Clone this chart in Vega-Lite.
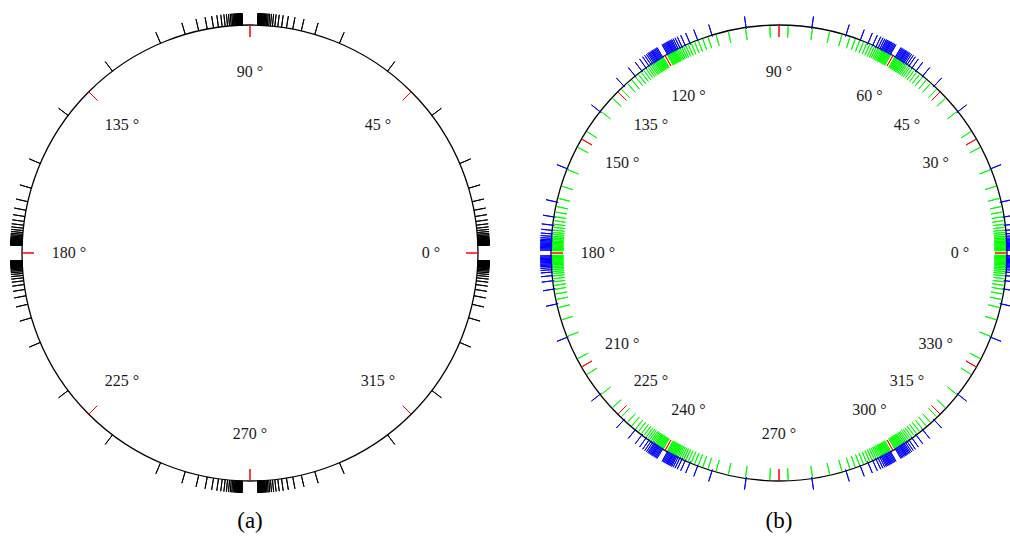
{
"$schema": "https://vega.github.io/schema/vega-lite/v6.json",
"background": "white",
"padding": 5,
"spacing": 39,
"config": {"view": {"stroke": null}},
"datasets": {
"circle": [{"start": 0, "end": 360}],
"aLabels": [{"angle":0,"label":"0 °"},{"angle":45,"label":"45 °"},{"angle":90,"label":"90 °"},{"angle":135,"label":"135 °"},{"angle":180,"label":"180 °"},{"angle":225,"label":"225 °"},{"angle":270,"label":"270 °"},{"angle":315,"label":"315 °"}],
"bLabels": [{"angle":0,"label":"0 °"},{"angle":30,"label":"30 °"},{"angle":45,"label":"45 °"},{"angle":60,"label":"60 °"},{"angle":90,"label":"90 °"},{"angle":120,"label":"120 °"},{"angle":135,"label":"135 °"},{"angle":150,"label":"150 °"},{"angle":180,"label":"180 °"},{"angle":210,"label":"210 °"},{"angle":225,"label":"225 °"},{"angle":240,"label":"240 °"},{"angle":270,"label":"270 °"},{"angle":300,"label":"300 °"},{"angle":315,"label":"315 °"},{"angle":330,"label":"330 °"}],
"aOuter": [
{"angle":1.9},{"angle":1.96},{"angle":2.03},{"angle":2.1},{"angle":2.18},{"angle":2.27},{"angle":2.36},{"angle":2.46},{"angle":2.57},{"angle":2.7},{"angle":2.83},{"angle":2.98},{"angle":3.15},{"angle":3.33},{"angle":3.54},{"angle":3.78},{"angle":4.05},{"angle":4.36},{"angle":4.72},{"angle":5.15},{"angle":5.65},{"angle":6.25},{"angle":7},{"angle":7.95},{"angle":9.2},{"angle":10.8},{"angle":13},{"angle":16.5},{"angle":23.1},{"angle":37.1},
{"angle":88.1},{"angle":88.04},{"angle":87.97},{"angle":87.9},{"angle":87.82},{"angle":87.73},{"angle":87.64},{"angle":87.54},{"angle":87.43},{"angle":87.3},{"angle":87.17},{"angle":87.02},{"angle":86.85},{"angle":86.67},{"angle":86.46},{"angle":86.22},{"angle":85.95},{"angle":85.64},{"angle":85.28},{"angle":84.85},{"angle":84.35},{"angle":83.75},{"angle":83},{"angle":82.05},{"angle":80.8},{"angle":79.2},{"angle":77},{"angle":73.5},{"angle":66.9},{"angle":52.9},
{"angle":91.9},{"angle":91.96},{"angle":92.03},{"angle":92.1},{"angle":92.18},{"angle":92.27},{"angle":92.36},{"angle":92.46},{"angle":92.57},{"angle":92.7},{"angle":92.83},{"angle":92.98},{"angle":93.15},{"angle":93.33},{"angle":93.54},{"angle":93.78},{"angle":94.05},{"angle":94.36},{"angle":94.72},{"angle":95.15},{"angle":95.65},{"angle":96.25},{"angle":97},{"angle":97.95},{"angle":99.2},{"angle":100.8},{"angle":103},{"angle":106.5},{"angle":113.1},{"angle":127.1},
{"angle":178.1},{"angle":178.04},{"angle":177.97},{"angle":177.9},{"angle":177.82},{"angle":177.73},{"angle":177.64},{"angle":177.54},{"angle":177.43},{"angle":177.3},{"angle":177.17},{"angle":177.02},{"angle":176.85},{"angle":176.67},{"angle":176.46},{"angle":176.22},{"angle":175.95},{"angle":175.64},{"angle":175.28},{"angle":174.85},{"angle":174.35},{"angle":173.75},{"angle":173},{"angle":172.05},{"angle":170.8},{"angle":169.2},{"angle":167},{"angle":163.5},{"angle":156.9},{"angle":142.9},
{"angle":181.9},{"angle":181.96},{"angle":182.03},{"angle":182.1},{"angle":182.18},{"angle":182.27},{"angle":182.36},{"angle":182.46},{"angle":182.57},{"angle":182.7},{"angle":182.83},{"angle":182.98},{"angle":183.15},{"angle":183.33},{"angle":183.54},{"angle":183.78},{"angle":184.05},{"angle":184.36},{"angle":184.72},{"angle":185.15},{"angle":185.65},{"angle":186.25},{"angle":187},{"angle":187.95},{"angle":189.2},{"angle":190.8},{"angle":193},{"angle":196.5},{"angle":203.1},{"angle":217.1},
{"angle":268.1},{"angle":268.04},{"angle":267.97},{"angle":267.9},{"angle":267.82},{"angle":267.73},{"angle":267.64},{"angle":267.54},{"angle":267.43},{"angle":267.3},{"angle":267.17},{"angle":267.02},{"angle":266.85},{"angle":266.67},{"angle":266.46},{"angle":266.22},{"angle":265.95},{"angle":265.64},{"angle":265.28},{"angle":264.85},{"angle":264.35},{"angle":263.75},{"angle":263},{"angle":262.05},{"angle":260.8},{"angle":259.2},{"angle":257},{"angle":253.5},{"angle":246.9},{"angle":232.9},
{"angle":271.9},{"angle":271.96},{"angle":272.03},{"angle":272.1},{"angle":272.18},{"angle":272.27},{"angle":272.36},{"angle":272.46},{"angle":272.57},{"angle":272.7},{"angle":272.83},{"angle":272.98},{"angle":273.15},{"angle":273.33},{"angle":273.54},{"angle":273.78},{"angle":274.05},{"angle":274.36},{"angle":274.72},{"angle":275.15},{"angle":275.65},{"angle":276.25},{"angle":277},{"angle":277.95},{"angle":279.2},{"angle":280.8},{"angle":283},{"angle":286.5},{"angle":293.1},{"angle":307.1},
{"angle":358.1},{"angle":358.04},{"angle":357.97},{"angle":357.9},{"angle":357.82},{"angle":357.73},{"angle":357.64},{"angle":357.54},{"angle":357.43},{"angle":357.3},{"angle":357.17},{"angle":357.02},{"angle":356.85},{"angle":356.67},{"angle":356.46},{"angle":356.22},{"angle":355.95},{"angle":355.64},{"angle":355.28},{"angle":354.85},{"angle":354.35},{"angle":353.75},{"angle":353},{"angle":352.05},{"angle":350.8},{"angle":349.2},{"angle":347},{"angle":343.5},{"angle":336.9},{"angle":322.9}
],
"bBlue": [
{"angle":0.7},{"angle":1},{"angle":1.3},{"angle":1.6},{"angle":1.9},{"angle":2.15},{"angle":2.4},{"angle":2.7},{"angle":3},{"angle":3.3},{"angle":3.7},{"angle":4.2},{"angle":4.8},{"angle":5.7},{"angle":7},{"angle":9.1},{"angle":12.9},{"angle":21.7},
{"angle":359.3},{"angle":359},{"angle":358.7},{"angle":358.4},{"angle":358.1},{"angle":357.85},{"angle":357.6},{"angle":357.3},{"angle":357},{"angle":356.7},{"angle":356.3},{"angle":355.8},{"angle":355.2},{"angle":354.3},{"angle":353},{"angle":350.9},{"angle":347.1},{"angle":338.3},
{"angle":59.3},{"angle":59},{"angle":58.7},{"angle":58.4},{"angle":58.1},{"angle":57.85},{"angle":57.6},{"angle":57.3},{"angle":57},{"angle":56.7},{"angle":56.3},{"angle":55.8},{"angle":55.2},{"angle":54.3},{"angle":53},{"angle":50.9},{"angle":47.1},{"angle":38.3},
{"angle":60.7},{"angle":61},{"angle":61.3},{"angle":61.6},{"angle":61.9},{"angle":62.15},{"angle":62.4},{"angle":62.7},{"angle":63},{"angle":63.3},{"angle":63.7},{"angle":64.2},{"angle":64.8},{"angle":65.7},{"angle":67},{"angle":69.1},{"angle":72.9},{"angle":81.7},
{"angle":119.3},{"angle":119},{"angle":118.7},{"angle":118.4},{"angle":118.1},{"angle":117.85},{"angle":117.6},{"angle":117.3},{"angle":117},{"angle":116.7},{"angle":116.3},{"angle":115.8},{"angle":115.2},{"angle":114.3},{"angle":113},{"angle":110.9},{"angle":107.1},{"angle":98.3},
{"angle":120.7},{"angle":121},{"angle":121.3},{"angle":121.6},{"angle":121.9},{"angle":122.15},{"angle":122.4},{"angle":122.7},{"angle":123},{"angle":123.3},{"angle":123.7},{"angle":124.2},{"angle":124.8},{"angle":125.7},{"angle":127},{"angle":129.1},{"angle":132.9},{"angle":141.7},
{"angle":179.3},{"angle":179},{"angle":178.7},{"angle":178.4},{"angle":178.1},{"angle":177.85},{"angle":177.6},{"angle":177.3},{"angle":177},{"angle":176.7},{"angle":176.3},{"angle":175.8},{"angle":175.2},{"angle":174.3},{"angle":173},{"angle":170.9},{"angle":167.1},{"angle":158.3},
{"angle":180.7},{"angle":181},{"angle":181.3},{"angle":181.6},{"angle":181.9},{"angle":182.15},{"angle":182.4},{"angle":182.7},{"angle":183},{"angle":183.3},{"angle":183.7},{"angle":184.2},{"angle":184.8},{"angle":185.7},{"angle":187},{"angle":189.1},{"angle":192.9},{"angle":201.7},
{"angle":239.3},{"angle":239},{"angle":238.7},{"angle":238.4},{"angle":238.1},{"angle":237.85},{"angle":237.6},{"angle":237.3},{"angle":237},{"angle":236.7},{"angle":236.3},{"angle":235.8},{"angle":235.2},{"angle":234.3},{"angle":233},{"angle":230.9},{"angle":227.1},{"angle":218.3},
{"angle":240.7},{"angle":241},{"angle":241.3},{"angle":241.6},{"angle":241.9},{"angle":242.15},{"angle":242.4},{"angle":242.7},{"angle":243},{"angle":243.3},{"angle":243.7},{"angle":244.2},{"angle":244.8},{"angle":245.7},{"angle":247},{"angle":249.1},{"angle":252.9},{"angle":261.7},
{"angle":299.3},{"angle":299},{"angle":298.7},{"angle":298.4},{"angle":298.1},{"angle":297.85},{"angle":297.6},{"angle":297.3},{"angle":297},{"angle":296.7},{"angle":296.3},{"angle":295.8},{"angle":295.2},{"angle":294.3},{"angle":293},{"angle":290.9},{"angle":287.1},{"angle":278.3},
{"angle":300.7},{"angle":301},{"angle":301.3},{"angle":301.6},{"angle":301.9},{"angle":302.15},{"angle":302.4},{"angle":302.7},{"angle":303},{"angle":303.3},{"angle":303.7},{"angle":304.2},{"angle":304.8},{"angle":305.7},{"angle":307},{"angle":309.1},{"angle":312.9},{"angle":321.7}
],
"bGreen": [
{"angle":0.6},{"angle":0.9},{"angle":1.2},{"angle":1.5},{"angle":1.8},{"angle":2.1},{"angle":2.4},{"angle":2.7},{"angle":3},{"angle":3.4},{"angle":3.8},{"angle":4.2},{"angle":4.7},{"angle":5.2},{"angle":5.8},{"angle":6.5},{"angle":7.3},{"angle":8.2},{"angle":9.2},{"angle":10.4},{"angle":11.8},{"angle":13.9},{"angle":17.1},{"angle":21.5},{"angle":27.7},
{"angle":359.4},{"angle":359.1},{"angle":358.8},{"angle":358.5},{"angle":358.2},{"angle":357.9},{"angle":357.6},{"angle":357.3},{"angle":357},{"angle":356.6},{"angle":356.2},{"angle":355.8},{"angle":355.3},{"angle":354.8},{"angle":354.2},{"angle":353.5},{"angle":352.7},{"angle":351.8},{"angle":350.8},{"angle":349.6},{"angle":348.2},{"angle":346.1},{"angle":342.9},{"angle":338.5},{"angle":332.3},
{"angle":59.4},{"angle":59.1},{"angle":58.8},{"angle":58.5},{"angle":58.2},{"angle":57.9},{"angle":57.6},{"angle":57.3},{"angle":57},{"angle":56.6},{"angle":56.2},{"angle":55.8},{"angle":55.3},{"angle":54.8},{"angle":54.2},{"angle":53.5},{"angle":52.7},{"angle":51.8},{"angle":50.8},{"angle":49.6},{"angle":48.2},{"angle":46.1},{"angle":42.9},{"angle":38.5},{"angle":32.3},
{"angle":60.6},{"angle":60.9},{"angle":61.2},{"angle":61.5},{"angle":61.8},{"angle":62.1},{"angle":62.4},{"angle":62.7},{"angle":63},{"angle":63.4},{"angle":63.8},{"angle":64.2},{"angle":64.7},{"angle":65.2},{"angle":65.8},{"angle":66.5},{"angle":67.3},{"angle":68.2},{"angle":69.2},{"angle":70.4},{"angle":71.8},{"angle":73.9},{"angle":77.1},{"angle":81.5},{"angle":87.7},
{"angle":119.4},{"angle":119.1},{"angle":118.8},{"angle":118.5},{"angle":118.2},{"angle":117.9},{"angle":117.6},{"angle":117.3},{"angle":117},{"angle":116.6},{"angle":116.2},{"angle":115.8},{"angle":115.3},{"angle":114.8},{"angle":114.2},{"angle":113.5},{"angle":112.7},{"angle":111.8},{"angle":110.8},{"angle":109.6},{"angle":108.2},{"angle":106.1},{"angle":102.9},{"angle":98.5},{"angle":92.3},
{"angle":120.6},{"angle":120.9},{"angle":121.2},{"angle":121.5},{"angle":121.8},{"angle":122.1},{"angle":122.4},{"angle":122.7},{"angle":123},{"angle":123.4},{"angle":123.8},{"angle":124.2},{"angle":124.7},{"angle":125.2},{"angle":125.8},{"angle":126.5},{"angle":127.3},{"angle":128.2},{"angle":129.2},{"angle":130.4},{"angle":131.8},{"angle":133.9},{"angle":137.1},{"angle":141.5},{"angle":147.7},
{"angle":179.4},{"angle":179.1},{"angle":178.8},{"angle":178.5},{"angle":178.2},{"angle":177.9},{"angle":177.6},{"angle":177.3},{"angle":177},{"angle":176.6},{"angle":176.2},{"angle":175.8},{"angle":175.3},{"angle":174.8},{"angle":174.2},{"angle":173.5},{"angle":172.7},{"angle":171.8},{"angle":170.8},{"angle":169.6},{"angle":168.2},{"angle":166.1},{"angle":162.9},{"angle":158.5},{"angle":152.3},
{"angle":180.6},{"angle":180.9},{"angle":181.2},{"angle":181.5},{"angle":181.8},{"angle":182.1},{"angle":182.4},{"angle":182.7},{"angle":183},{"angle":183.4},{"angle":183.8},{"angle":184.2},{"angle":184.7},{"angle":185.2},{"angle":185.8},{"angle":186.5},{"angle":187.3},{"angle":188.2},{"angle":189.2},{"angle":190.4},{"angle":191.8},{"angle":193.9},{"angle":197.1},{"angle":201.5},{"angle":207.7},
{"angle":239.4},{"angle":239.1},{"angle":238.8},{"angle":238.5},{"angle":238.2},{"angle":237.9},{"angle":237.6},{"angle":237.3},{"angle":237},{"angle":236.6},{"angle":236.2},{"angle":235.8},{"angle":235.3},{"angle":234.8},{"angle":234.2},{"angle":233.5},{"angle":232.7},{"angle":231.8},{"angle":230.8},{"angle":229.6},{"angle":228.2},{"angle":226.1},{"angle":222.9},{"angle":218.5},{"angle":212.3},
{"angle":240.6},{"angle":240.9},{"angle":241.2},{"angle":241.5},{"angle":241.8},{"angle":242.1},{"angle":242.4},{"angle":242.7},{"angle":243},{"angle":243.4},{"angle":243.8},{"angle":244.2},{"angle":244.7},{"angle":245.2},{"angle":245.8},{"angle":246.5},{"angle":247.3},{"angle":248.2},{"angle":249.2},{"angle":250.4},{"angle":251.8},{"angle":253.9},{"angle":257.1},{"angle":261.5},{"angle":267.7},
{"angle":299.4},{"angle":299.1},{"angle":298.8},{"angle":298.5},{"angle":298.2},{"angle":297.9},{"angle":297.6},{"angle":297.3},{"angle":297},{"angle":296.6},{"angle":296.2},{"angle":295.8},{"angle":295.3},{"angle":294.8},{"angle":294.2},{"angle":293.5},{"angle":292.7},{"angle":291.8},{"angle":290.8},{"angle":289.6},{"angle":288.2},{"angle":286.1},{"angle":282.9},{"angle":278.5},{"angle":272.3},
{"angle":300.6},{"angle":300.9},{"angle":301.2},{"angle":301.5},{"angle":301.8},{"angle":302.1},{"angle":302.4},{"angle":302.7},{"angle":303},{"angle":303.4},{"angle":303.8},{"angle":304.2},{"angle":304.7},{"angle":305.2},{"angle":305.8},{"angle":306.5},{"angle":307.3},{"angle":308.2},{"angle":309.2},{"angle":310.4},{"angle":311.8},{"angle":313.9},{"angle":317.1},{"angle":321.5},{"angle":327.7}
]
},
"hconcat": [
{
"width": 490, "height": 496,
"title": {"text": "(a)", "orient": "bottom", "font": "Liberation Serif", "fontSize": 23, "fontWeight": "normal", "color": "#000", "offset": 9},
"layer": [
{"data": {"name": "circle"}, "mark": {"type": "arc", "radius": 228, "radius2": 228, "filled": false, "color": "#000", "strokeWidth": 1.3},
 "encoding": {"theta": {"field": "start", "type": "quantitative", "stack": null, "scale": {"domain": [0, 360], "range": [1.5707963, -4.712389], "nice": false, "zero": false}}, "theta2": {"field": "end"}}},
{"data": {"name": "aOuter"}, "mark": {"type": "arc", "radius": 240, "radius2": 228, "filled": false, "color": "#000", "strokeWidth": 1},
 "encoding": {"theta": {"field": "angle", "type": "quantitative", "stack": null, "scale": {"domain": [0, 360], "range": [1.5707963, -4.712389], "nice": false, "zero": false}}, "theta2": {"field": "angle"}}},
{"data": {"name": "aLabels"}, "mark": {"type": "arc", "radius": 228, "radius2": 216, "filled": false, "color": "#ff0000", "strokeWidth": 1},
 "encoding": {"theta": {"field": "angle", "type": "quantitative", "stack": null, "scale": {"domain": [0, 360], "range": [1.5707963, -4.712389], "nice": false, "zero": false}}, "theta2": {"field": "angle"}}},
{"data": {"name": "aLabels"}, "mark": {"type": "text", "radius": 181, "font": "Liberation Serif", "fontSize": 16, "color": "#1a1a1a", "align": "center", "baseline": "middle"},
 "encoding": {"theta": {"field": "angle", "type": "quantitative", "stack": null, "scale": {"domain": [0, 360], "range": [1.5707963, -4.712389], "nice": false, "zero": false}}, "text": {"field": "label"}}}
]
},
{
"width": 490, "height": 496,
"title": {"text": "(b)", "orient": "bottom", "font": "Liberation Serif", "fontSize": 23, "fontWeight": "normal", "color": "#000", "offset": 9},
"layer": [
{"data": {"name": "circle"}, "mark": {"type": "arc", "radius": 228, "radius2": 228, "filled": false, "color": "#000", "strokeWidth": 1.3},
 "encoding": {"theta": {"field": "start", "type": "quantitative", "stack": null, "scale": {"domain": [0, 360], "range": [1.5707963, -4.712389], "nice": false, "zero": false}}, "theta2": {"field": "end"}}},
{"data": {"name": "bBlue"}, "mark": {"type": "arc", "radius": 239, "radius2": 226.5, "filled": false, "color": "#0000ff", "strokeWidth": 1},
 "encoding": {"theta": {"field": "angle", "type": "quantitative", "stack": null, "scale": {"domain": [0, 360], "range": [1.5707963, -4.712389], "nice": false, "zero": false}}, "theta2": {"field": "angle"}}},
{"data": {"name": "bGreen"}, "mark": {"type": "arc", "radius": 227, "radius2": 215.5, "filled": false, "color": "#00ff00", "strokeWidth": 1},
 "encoding": {"theta": {"field": "angle", "type": "quantitative", "stack": null, "scale": {"domain": [0, 360], "range": [1.5707963, -4.712389], "nice": false, "zero": false}}, "theta2": {"field": "angle"}}},
{"data": {"name": "bLabels"}, "mark": {"type": "arc", "radius": 228, "radius2": 216, "filled": false, "color": "#ff0000", "strokeWidth": 1},
 "encoding": {"theta": {"field": "angle", "type": "quantitative", "stack": null, "scale": {"domain": [0, 360], "range": [1.5707963, -4.712389], "nice": false, "zero": false}}, "theta2": {"field": "angle"}}},
{"data": {"name": "bLabels"}, "mark": {"type": "text", "radius": 181, "font": "Liberation Serif", "fontSize": 16, "color": "#1a1a1a", "align": "center", "baseline": "middle"},
 "encoding": {"theta": {"field": "angle", "type": "quantitative", "stack": null, "scale": {"domain": [0, 360], "range": [1.5707963, -4.712389], "nice": false, "zero": false}}, "text": {"field": "label"}}}
]
}
]
}
